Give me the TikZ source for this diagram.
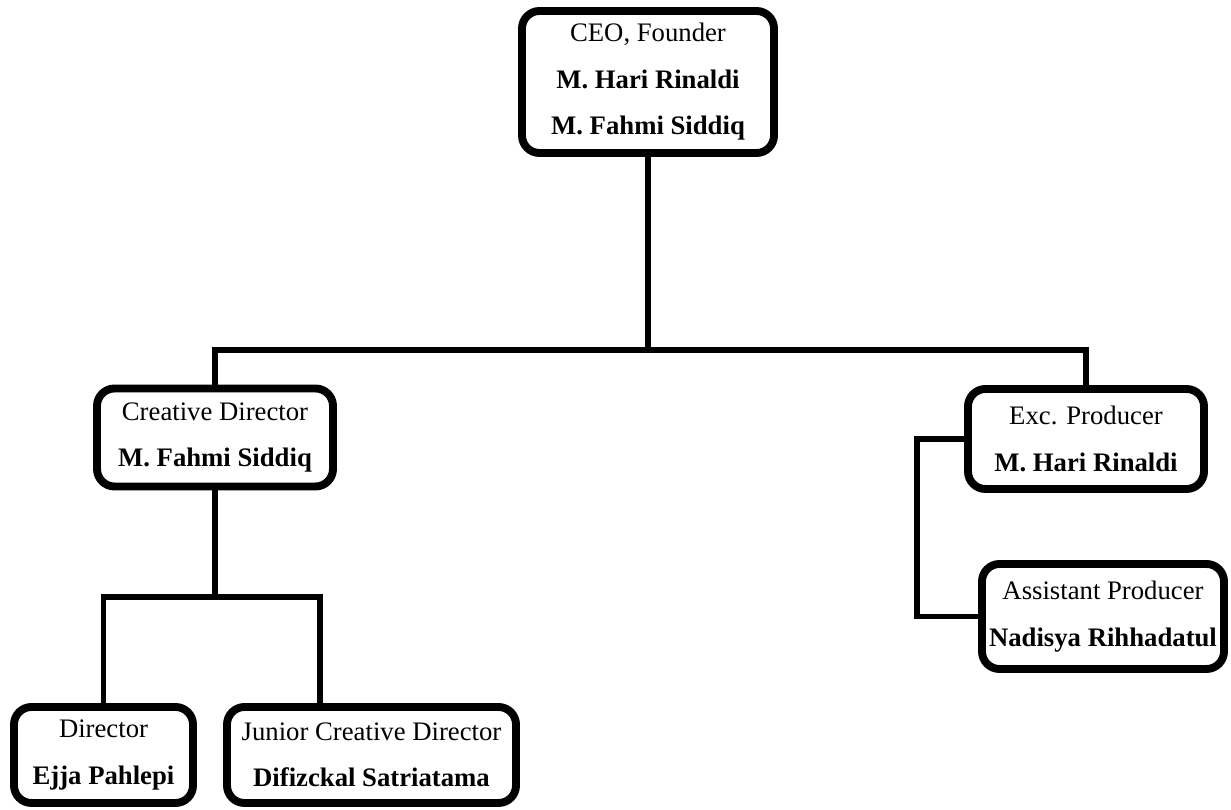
\documentclass[tikz,border=0pt]{standalone}
\usepackage{fontspec}
\setmainfont{Liberation Serif}
\tikzset{
  orgbox/.style={draw, line width=4.5pt, rounded corners=0.35cm, align=center, inner sep=0pt, font=\fontsize{15.2}{26.5}\selectfont},
  link/.style={line width=3.1pt}
}

\begin{document}
\begin{tikzpicture}
	\useasboundingbox (0,0) rectangle (24.62,16.2);
	% Define the boxes of the team
	\node[orgbox, minimum width=5.04cm, minimum height=2.84cm] (ceo) at (12.96, 14.56) {CEO, Founder\\ \textbf{M. Hari Rinaldi}\\ \textbf{M. Fahmi Siddiq}};
	\node[orgbox, minimum width=4.72cm, minimum height=1.96cm] (cd) at (4.30, 7.45) {Creative Director\\ \textbf{M. Fahmi Siddiq}};
	\node[orgbox, minimum width=4.72cm, minimum height=2.0cm] (ep) at (21.72, 7.42) {Exc. Producer\\ \textbf{M. Hari Rinaldi}};
	\node[orgbox, minimum width=4.84cm, minimum height=2.1cm] (ap) at (22.06, 3.87) {Assistant Producer\\ \textbf{Nadisya Rihhadatul}};
	\node[orgbox, minimum width=3.58cm, minimum height=1.92cm] (dir) at (2.07, 1.10) {Director\\ \textbf{Ejja Pahlepi}};
	\node[orgbox, minimum width=5.78cm, minimum height=1.92cm] (jcd) at (7.43, 1.10) {Junior Creative Director\\ \textbf{Difizckal Satriatama}};

	% Branch points of the lines
	\coordinate (hub) at (12.96, 9.2);
	\coordinate (cdhub) at (4.30, 4.26);

	% Lines between the boxes
	\draw[link] (ceo.south) -- (hub);
	\draw[link] (cd.north) |- (hub) -| (ep.north);
	\draw[link] (cd.south) -- (cdhub);
	\draw[link] (dir.north) |- (cdhub) -| ([xshift=-1.03cm]jcd.north);
	\draw[link] (ep.west) -- ++(-0.94,0) |- (ap.west);
\end{tikzpicture}
\end{document}
